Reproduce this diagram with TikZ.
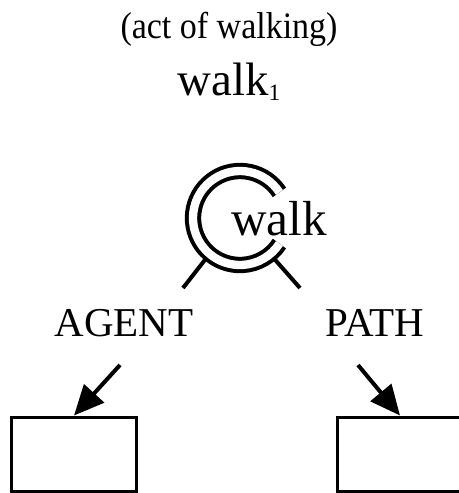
\documentclass[tikz,border=0pt]{standalone}
\usepackage{fontspec}
\setmainfont{Liberation Serif}
\usetikzlibrary{arrows.meta}

\tikzset{
  word/.style={inner sep=0pt, font=\fontsize{40}{42}\selectfont},
  role/.style={inner sep=0pt, font=\fontsize{35}{38}\selectfont},
  ring/.style={draw=black, double=white, double distance=0.25cm, line width=0.12cm},
  leg/.style={line width=0.12cm},
  arr/.style={line width=0.12cm, -{Triangle[length=0.9cm, width=0.8cm]}},
  box/.style={draw, line width=0.09cm, minimum width=3.72cm, minimum height=2.22cm}
}
\newcommand{\sensenum}[1]{\raisebox{-0.25ex}{\fontsize{20}{20}\selectfont #1}}

\begin{document}
\begin{tikzpicture}[x=0.03cm, y=-0.03cm]
\useasboundingbox (0,0) rectangle (459,493);

% heading
\node[inner sep=0pt, font=\fontsize{29}{30}\selectfont, yscale=1.1] (gloss) at (229,29) {(act of walking)};
\node[word, anchor=base] (sense) at (229,95) {walk\sensenum{1}};

% the open double ring with its two legs
\coordinate (hub) at (240,218);
\draw[ring] ([shift={(33:1.41cm)}]hub) arc[start angle=33, end angle=327, radius=1.41cm];
\node[word, font=\fontsize{42}{44}\selectfont, anchor=base west] (walk) at (231,235) {walk};
\coordinate (footL) at (183,288);
\coordinate (footR) at (300,288);
\draw[leg] ([shift={(230:1.6cm)}]hub) -- (footL);
\draw[leg] ([shift={(310:1.6cm)}]hub) -- (footR);

% roles
\node[role] (agent) at (124,323) {AGENT};
\node[role] (path) at (375,323) {PATH};

% fillers
\node[box] (fillA) at (74,454) {};
\node[box] (fillP) at (400,454) {};
\coordinate (fromA) at (120,365);
\coordinate (fromP) at (358,365);
\draw[arr] (fromA) -- (fillA.north);
\draw[arr] (fromP) -- (fillP.north);
\end{tikzpicture}
\end{document}
